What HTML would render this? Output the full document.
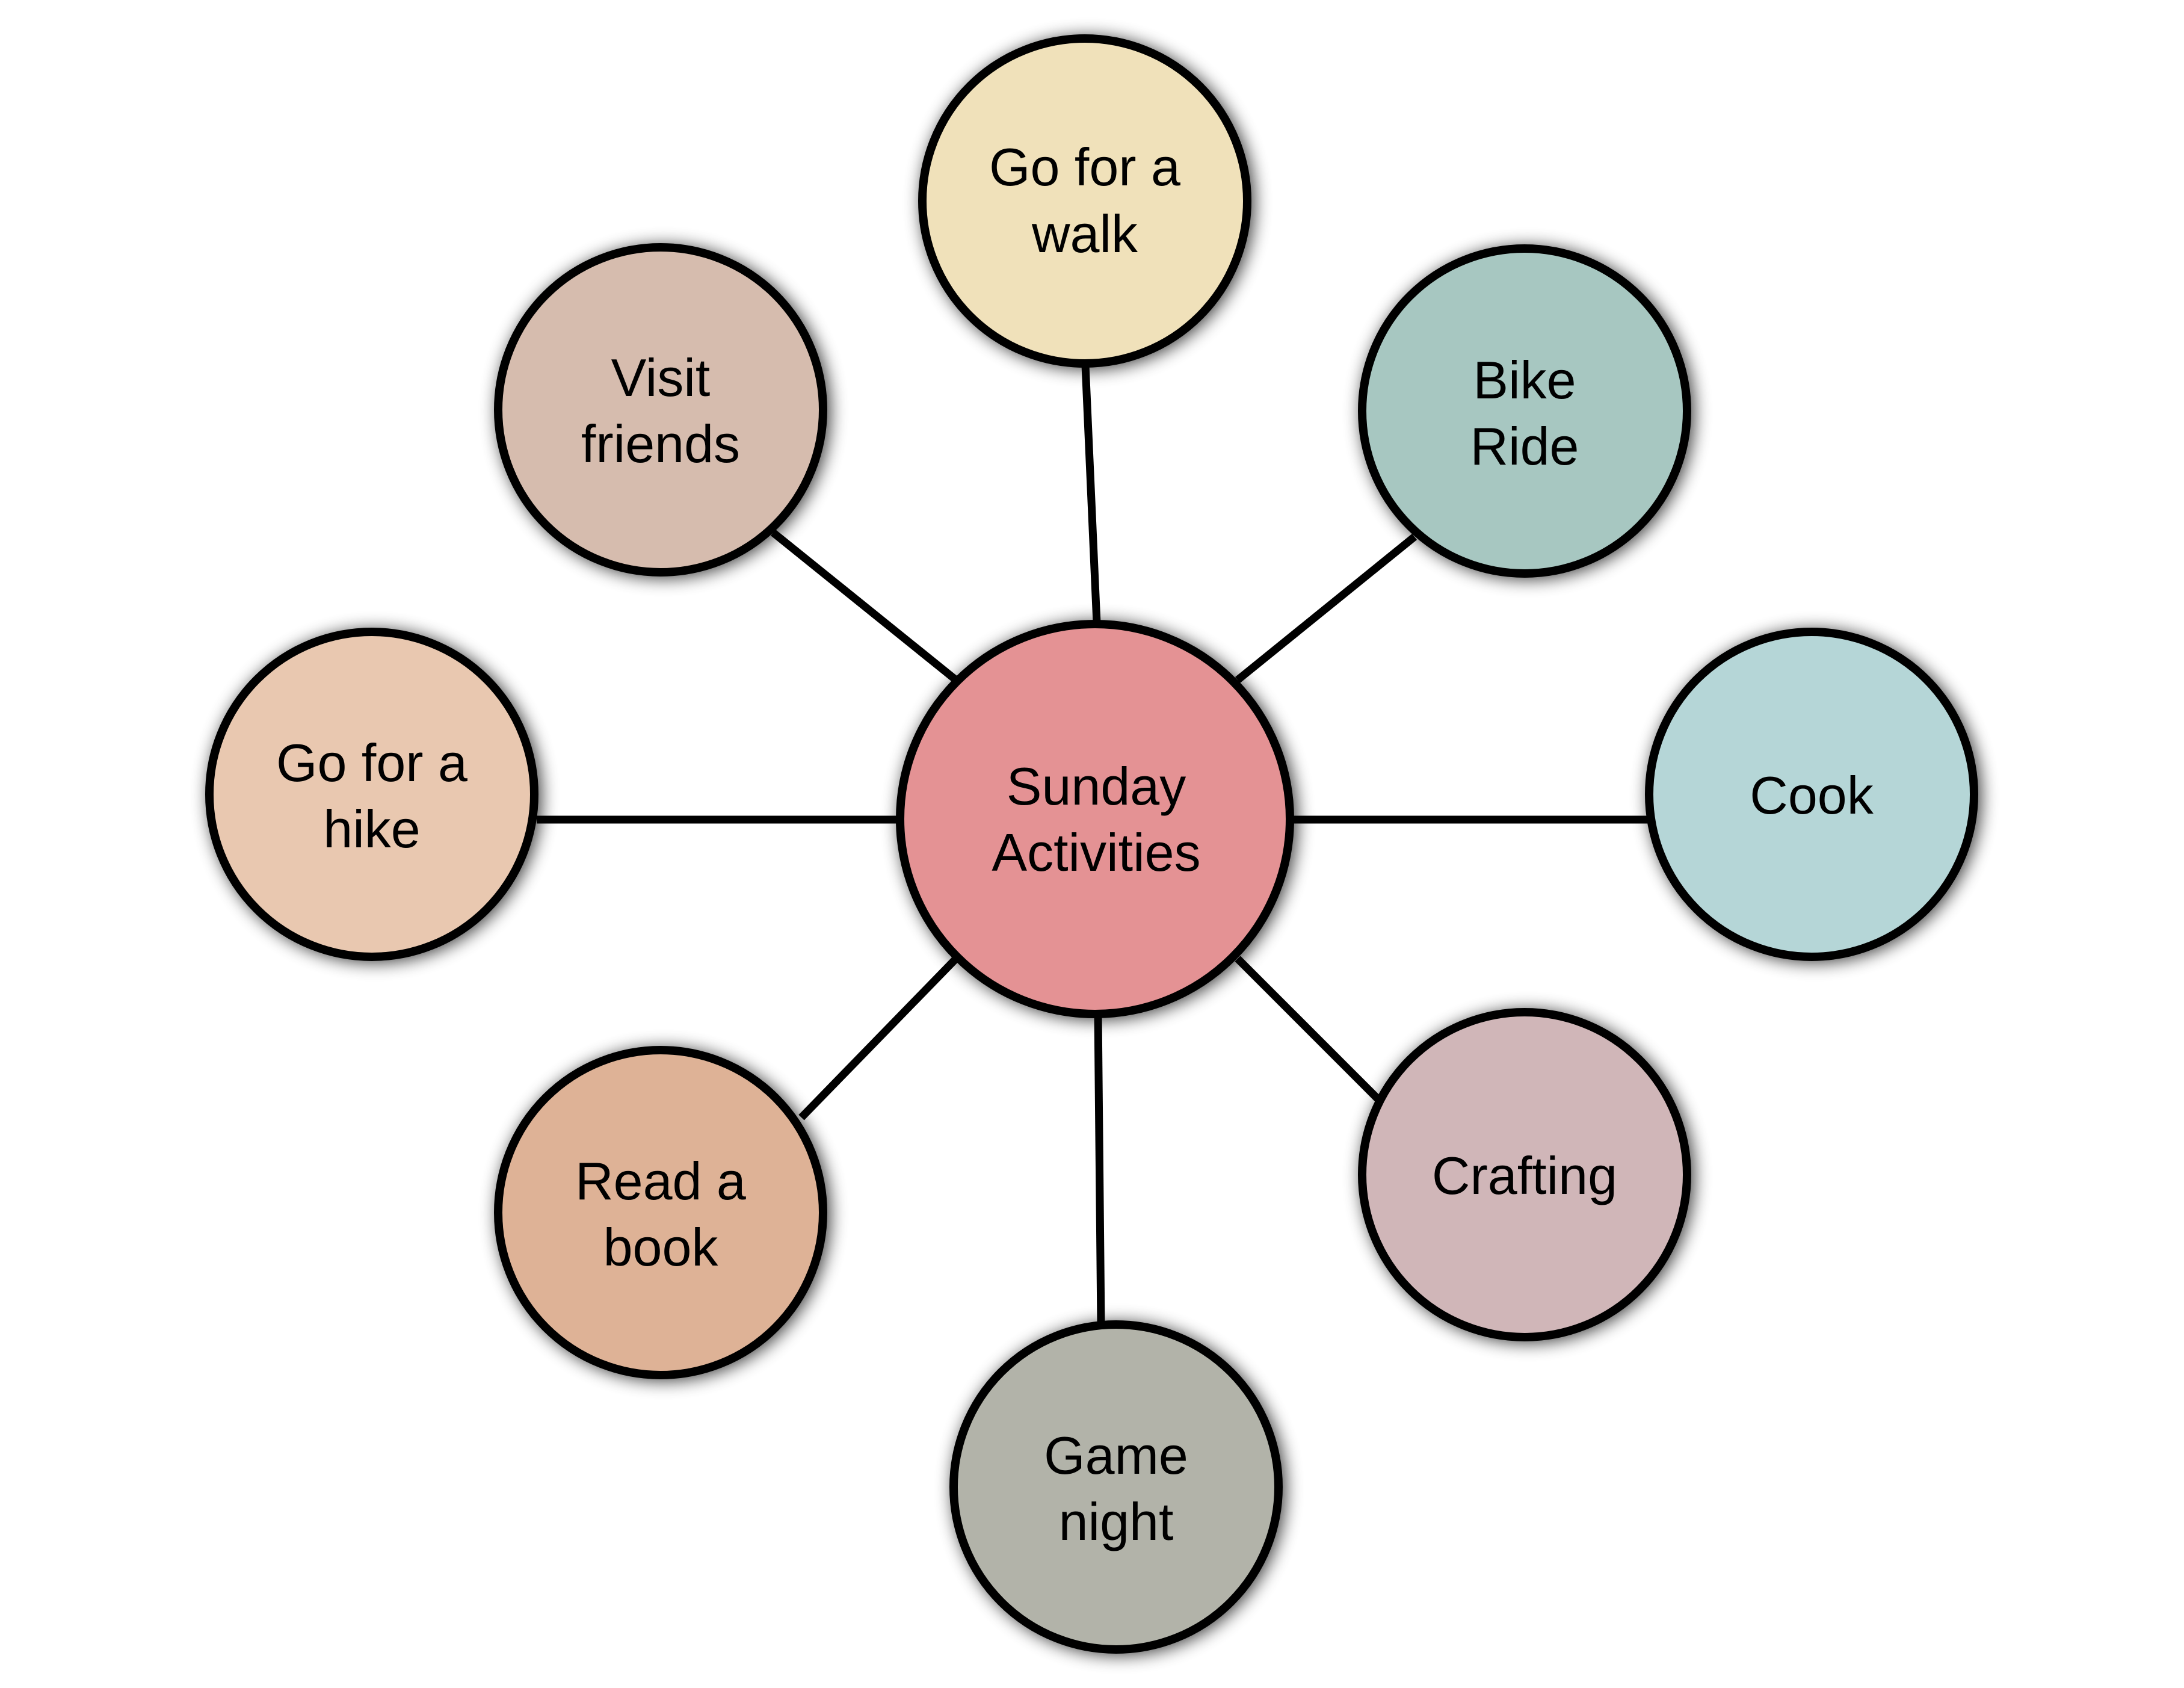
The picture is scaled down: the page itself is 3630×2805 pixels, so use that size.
<!DOCTYPE html>
<html><head><meta charset="utf-8"><style>
html,body{margin:0;padding:0;background:#fff;}
svg{display:block;}
text{font-family:"Liberation Sans",sans-serif;font-size:88px;fill:#000;text-anchor:middle;}
</style></head><body>
<svg width="3630" height="2805" viewBox="0 0 3630 2805" xmlns="http://www.w3.org/2000/svg">
<defs>
<filter id="sh" x="-30%" y="-30%" width="160%" height="160%">
<feGaussianBlur in="SourceAlpha" stdDeviation="14"/>
<feOffset dx="5" dy="3" result="b"/>
<feComponentTransfer><feFuncA type="linear" slope="0.75"/></feComponentTransfer>
<feMerge><feMergeNode/><feMergeNode in="SourceGraphic"/></feMerge>
</filter>
</defs>
<g stroke="#000" stroke-width="13">
<line x1="1823" y1="1035" x2="1804" y2="607"/>
<line x1="1285" y1="885" x2="1589" y2="1130"/>
<line x1="2351" y1="892" x2="2057" y2="1130"/>
<line x1="892" y1="1362" x2="1494" y2="1362"/>
<line x1="2149" y1="1362" x2="2740" y2="1362"/>
<line x1="1332" y1="1857" x2="1589" y2="1593"/>
<line x1="2057" y1="1593" x2="2293" y2="1829"/>
<line x1="1825" y1="1686" x2="1830" y2="2200"/>
</g>
<g stroke="#000" stroke-width="14" filter="url(#sh)">
<circle cx="1820" cy="1361" r="324" fill="#E49294"/>
<circle cx="1803" cy="334" r="270" fill="#F0E1BA"/>
<circle cx="1098" cy="681" r="270" fill="#D6BCAE"/>
<circle cx="2534" cy="683" r="270" fill="#A7C7C1"/>
<circle cx="618" cy="1320" r="270" fill="#E9C8B0"/>
<circle cx="3011" cy="1320" r="270" fill="#B5D6D7"/>
<circle cx="1098" cy="2015" r="270" fill="#DEB296"/>
<circle cx="2534" cy="1952" r="270" fill="#D0B6B8"/>
<circle cx="1855" cy="2471" r="270" fill="#B2B3A9"/>
</g>
<text x="1822" y="1337">Sunday</text><text x="1822" y="1447">Activities</text>
<text x="1803" y="308">Go for a</text><text x="1803" y="419">walk</text>
<text x="1098" y="658">Visit</text><text x="1098" y="768">friends</text>
<text x="2534" y="662">Bike</text><text x="2534" y="772">Ride</text>
<text x="618" y="1298">Go for a</text><text x="618" y="1408">hike</text>
<text x="3011" y="1352">Cook</text>
<text x="1098" y="1993">Read a</text><text x="1098" y="2103">book</text>
<text x="2534" y="1984">Crafting</text>
<text x="1855" y="2449">Game</text><text x="1855" y="2559">night</text>
</svg>
</body></html>
